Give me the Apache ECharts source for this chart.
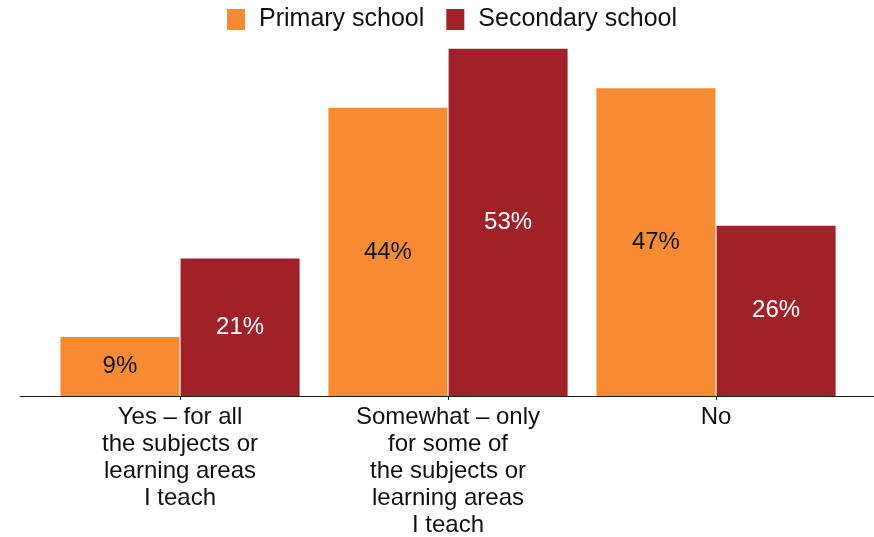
<!DOCTYPE html>
<html>
<head>
<meta charset="utf-8">
<script src="https://cdn.jsdelivr.net/npm/echarts@6/dist/echarts.min.js"></script>
<style>
  html, body { margin: 0; padding: 0; background: #fff; }
  #chart { width: 874px; height: 537px; }
</style>
</head>
<body>
<div id="chart"></div>
<script>
// Answer categories along the x axis
const categories = [
  'Yes – for all\nthe subjects or\nlearning areas\nI teach',
  'Somewhat – only\nfor some of\nthe subjects or\nlearning areas\nI teach',
  'No'
];
// Share of teachers (%) by school level
const primaryValues = [9, 44, 47];
const secondaryValues = [21, 53, 26];
const seriesNames = ['Primary school', 'Secondary school'];

const FONT = '"Liberation Sans", Arial, sans-serif';
const chart = echarts.init(document.getElementById('chart'), null, { renderer: 'canvas' });

const labelStyle = (color) => ({
  show: true,
  position: 'inside',
  formatter: '{c}%',
  color: color,
  fontSize: 24,
  fontFamily: FONT
});

chart.setOption({
  animation: false,
  backgroundColor: '#ffffff',
  legend: {
    top: 2,
    left: 222,
    itemWidth: 18,
    itemHeight: 21,
    itemGap: 22,
    icon: 'rect',
    textStyle: { fontSize: 25, fontFamily: FONT, color: '#111', padding: [0, 0, 0, 9] },
    data: seriesNames
  },
  grid: [
    { left: 46, right: 24, top: 3, bottom: 141, outerBoundsMode: 'none', containLabel: false },
    { left: 20, right: 0, top: 3, bottom: 141, outerBoundsMode: 'none', containLabel: false }
  ],
  xAxis: [
    {
      type: 'category',
      gridIndex: 0,
      data: categories,
      axisLine: { show: false },
      axisTick: { show: true, alignWithLabel: true, length: 4, lineStyle: { color: '#222' } },
      axisLabel: {
        interval: 0,
        margin: 8,
        fontSize: 24,
        lineHeight: 27,
        fontFamily: FONT,
        color: '#111',
        align: 'center'
      }
    },
    {
      type: 'category',
      gridIndex: 1,
      data: [''],
      axisLine: { show: true, lineStyle: { color: '#222', width: 1 } },
      axisTick: { show: false },
      axisLabel: { show: false }
    }
  ],
  yAxis: [
    { type: 'value', gridIndex: 0, min: 0, max: 60, show: false },
    { type: 'value', gridIndex: 1, min: 0, max: 60, show: false }
  ],
  series: [
    {
      name: seriesNames[0],
      type: 'bar',
      xAxisIndex: 0,
      yAxisIndex: 0,
      data: primaryValues,
      barWidth: 119,
      barGap: '1%',
      itemStyle: { color: '#F68B33' },
      label: labelStyle('#111')
    },
    {
      name: seriesNames[1],
      type: 'bar',
      xAxisIndex: 0,
      yAxisIndex: 0,
      data: secondaryValues,
      barWidth: 119,
      barGap: '1%',
      itemStyle: { color: '#A02128' },
      label: labelStyle('#ffffff')
    }
  ]
});
</script>
</body>
</html>
